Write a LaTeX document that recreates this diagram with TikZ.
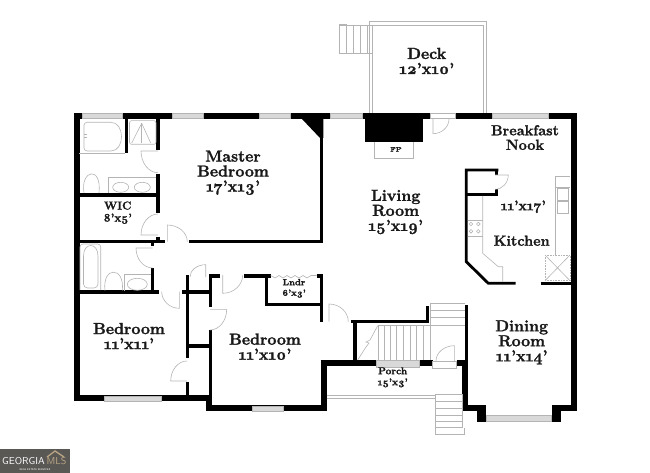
\documentclass[tikz,border=0pt]{standalone}
\usepackage{fontspec}
\setmainfont{Latin Modern Roman}[Numbers=OldStyle,BoldFeatures={FakeBold=1.6}]
\usepackage{tikz}
\usetikzlibrary{calc}
\definecolor{fixgray}{HTML}{B4B4B4}
\definecolor{logogray}{HTML}{5A5855}
\definecolor{logotan}{HTML}{B8A583}
\tikzset{
  wall/.style={line width=#1,black,line cap=butt,line join=miter},
  wall/.default=3.4pt,
  fixture/.style={draw=fixgray,line width=.6pt},
  panel/.style={draw=fixgray,line width=.6pt,fill=gray!30},
  roomlabel/.style={font=\fontsize{16}{15}\selectfont\bfseries,align=center,inner sep=0pt,text=black!90},
  smalllabel/.style={font=\fontsize{11.5}{12}\selectfont\bfseries,align=center,inner sep=0pt,text=black!90},
  tinylabel/.style={font=\fontsize{9}{10.5}\selectfont\bfseries,align=center,inner sep=0pt,text=black!90}
}
% door: hinge, open end of leaf, end of swing
\newcommand{\swing}[3]{
\draw [fixture] #1 -- #2 .. controls ($ #2 + 0.55*#3 - 0.55*#1 $) and ($ #3 + 0.55*#2 - 0.55*#1 $) .. #3;
}
\begin{document}
\begin{tikzpicture}[x=1pt,y=-1pt]
\useasboundingbox (0,0) rectangle (650,473);
% outer walls
\draw [wall=6pt] (76.5,401) -- (76.5,116) -- (430,116);
\draw [wall=6pt] (455,116) -- (573.7,116) -- (573.7,410.7);
\draw [wall=6pt] (73.5,398.3) -- (212,398.3);
\draw [wall=6pt] (206,408) -- (326.7,408);
\draw [wall=6pt] (209,395) -- (209,411);
\draw [wall=6pt] (323.7,360) -- (323.7,411);
\draw [wall=6pt] (320.7,363) -- (376.7,363);
\draw [wall=6pt] (419.3,363) -- (432.7,363);
\draw [wall=6pt] (456.7,363) -- (467.3,363);
\draw [wall=6pt] (464.5,360) -- (464.5,410.7);
\draw [wall=6pt] (461.5,407.8) -- (483.3,407.8);
\draw [wall=6pt] (555,407.8) -- (576.7,407.8);
\fill (476.7,405) rectangle (485.7,421.5);
\fill (551.7,405) rectangle (561,421.5);
\fill (365,116) rectangle (422.7,142.3);
\fill (302,119) -- (323.4,119) -- (323.4,138) -- (320,138) -- cycle;
% master bedroom and baths
\draw [wall] (321.7,116) -- (321.7,243.4);
\draw [wall] (189.3,241.7) -- (323.4,241.7);
\draw [wall] (79,241.7) -- (165,241.7);
\draw [wall] (158,119) -- (158,150);
\draw [wall] (158,174) -- (158,213.3);
\draw [wall] (158,236.7) -- (158,240);
\draw [wall] (126.7,119) -- (126.7,153.3);
\draw [wall] (79,195) -- (160,195);
\draw [wall] (152.7,243) -- (152.7,246);
\draw [wall] (152.7,268.3) -- (152.7,293);
\draw [wall] (79,292) -- (159,292);
% closets and bedrooms
\draw [wall] (187.7,275) -- (187.7,358.3);
\draw [wall] (187.7,381.7) -- (187.7,396);
\draw [wall] (182.3,292) -- (209,292);
\draw [wall] (187.7,346) -- (209,346);
\draw [wall] (220,275.8) -- (208.6,275.8);
\draw [wall] (210.3,274.2) -- (210.3,307.3);
\draw [wall] (210.3,330) -- (210.3,405);
\draw [wall] (244.3,275.8) -- (270.7,275.8);
\draw [wall] (266.7,274.2) -- (266.7,305.7);
\draw [wall] (265,304.2) -- (323.4,304.2);
\draw [wall] (316.7,275.8) -- (323.4,275.8);
\draw [wall] (321.7,274.2) -- (321.7,321.7);
% stairs, hall and kitchen
\draw [wall] (350.7,321.7) -- (429.3,321.7);
\draw [wall] (427.6,306) -- (427.6,323.4);
\draw [wall] (355,323) -- (355,360);
\draw [wall=2.8pt] (466.3,305) -- (466.3,360);
\draw [wall=2.8pt] (498.3,170) -- (466.3,170) -- (466.3,261.7) -- (488.3,283.3) -- (515.7,283.3);
\draw [wall=2.8pt] (465,194.7) -- (498.3,194.7);
\draw [wall=2.8pt] (540.7,283.3) -- (570.7,283.3);
\draw [wall=2.8pt] (496.7,170) -- (496.7,175);
\draw [wall=2.8pt] (496.7,189.3) -- (496.7,194.7);
% windows
\foreach \xa/\ya/\xb/\yb/\pname in {82.7/113.5/122/118.5/winA,172/113.5/203/118.5/winB,259/113.5/290/118.5/winC,330/113.5/362/118.5/winD,492/113.5/548/118.5/winE,104.3/396/161/401/winF,252.7/406/283.3/411/winG,376.7/360.5/419.3/367/winH,486.7/415/551.7/421.5/winI}
  \draw [panel] (\xa,\ya) rectangle (\xb,\yb);
% deck
\draw [fixture] (369,113) -- (369,21.7) -- (486.7,21.7) -- (486.7,113);
\draw [fixture] (372.7,113) -- (372.7,25) -- (483,25) -- (483,113);
\draw [fixture] (339.3,24) rectangle (346.5,53);
\foreach \xstep in {346.5,353.5,360.5,367}
  \draw [fixture] (\xstep,25) -- (\xstep,53);
\draw [fixture] (339.3,25) -- (372,25);
\draw [fixture] (339.3,53) -- (372,53);
% fireplace
\draw [fixture] (374,142.3) -- (374,158) -- (413.7,158) -- (413.7,142.3);
% doors
\draw [fixture] (430,113.3) rectangle (455,118.5);
\swing{(433,119)}{(433,133.7)}{(449,119)}
\swing{(167.3,241.7)}{(167.3,225)}{(187.3,241.7)}
\swing{(158,151)}{(141,151)}{(158,172.7)}
\swing{(158,235)}{(141,235)}{(158,214)}
\swing{(152.7,248)}{(136,248)}{(152.7,268)}
\swing{(179.3,291.7)}{(179.3,308.3)}{(161.7,291.7)}
\swing{(205.7,277)}{(205.7,264.7)}{(190,277)}
\swing{(222.7,275)}{(222.7,293.3)}{(242.7,275)}
\swing{(210,309.3)}{(226.7,309.3)}{(210,330)}
\swing{(187,381)}{(170.7,381)}{(187,361)}
\swing{(329,321.7)}{(329,304)}{(348.3,321.7)}
\swing{(454.3,361)}{(454.3,345.7)}{(436,361)}
\swing{(495,175)}{(508.3,175)}{(495,189.3)}
\draw [fixture] (432.7,361) rectangle (456.7,368);
% laundry folding doors
\draw [fixture] (270.7,275.5) -- (275,278) -- (279,275.5) -- (283,278) -- (287,275.5) -- (291,278) -- (295,275.5) -- (299,278) -- (303,275.5) -- (307,278) -- (311,275.5) -- (316.7,275.5);
% master bath fixtures
\draw [fixture] (79,153) -- (125,153);
\draw [fixture,rounded corners=3pt] (84,122.3) -- (108,122.3) .. controls (125,122.3) and (125,151) .. (108,151) -- (84,151) -- cycle;
\draw [fixture] (84,134) -- (87,134);
\draw [fixture] (84,137) -- (87,137);
\draw [fixture,rounded corners=2pt] (129.5,120.7) rectangle (156,144.3);
\draw [fixture] (141.7,123.3) -- (131.7,143);
\draw [fixture] (141.7,123.3) -- (150.7,143);
\draw [fixture] (141.7,123.3) -- (141.7,143);
\draw [fixture] (84,193) .. controls (80,170) and (102,165) .. (99,193);
\draw [fixture] (108,193) -- (108,177) -- (156,177);
\draw [fixture] (120.7,187.3) ellipse (8 and 5);
\draw [fixture] (142.3,187.3) ellipse (8 and 5);
% hall bath fixtures
\draw [fixture,rounded corners=3pt] (80,290) -- (80,244) -- (100.7,244) -- (100.7,290);
\draw [fixture,rounded corners=4pt] (83.5,288) -- (83.5,260) .. controls (83.5,242) and (98,242) .. (98,260) -- (98,288) -- cycle;
\draw [fixture] (105,290.5) .. controls (102,266) and (125,266) .. (122.3,290.5);
\draw [fixture] (124,290.5) -- (124,274.3) -- (150.7,274.3);
\draw [fixture] (137.3,284.3) ellipse (10 and 6);
% stairs
\foreach \ytread in {303.3,310.7,317.3,325}
  \draw [fixture] (430,\ytread) -- (465,\ytread);
\draw [fixture] (430,303.3) -- (430,360);
\draw [fixture] (378,325) -- (430,325);
\foreach \xtread in {378.3,384,390,396.7,403.3,410,416.7,423.3}
  \draw [fixture] (\xtread,325) -- (\xtread,360);
\draw [fixture] (357.7,360) -- (366,347) -- (369,343) -- (366,342) -- (370,340) -- (377.7,325.7);
% porch
\draw [fixture] (326.7,395) -- (435,395);
\draw [fixture] (326.7,398.3) -- (435,398.3);
\foreach \ystep in {394.3,401.7,408.3,415,421.7,427.7}
  \draw [fixture] (435,\ystep) -- (462.7,\ystep);
\draw [fixture] (435,394.3) -- (435,434) -- (464,434) -- (464,427.7);
\draw [fixture] (462.7,394.3) -- (462.7,427.7);
% kitchen fixtures
\draw [fixture] (482.7,196) -- (482.7,253.3) -- (498.3,266.7) -- (502.7,266.7) -- (502.7,281.7);
\draw [fixture] (467.5,220) -- (482.7,220);
\draw [fixture] (467.5,236) -- (482.7,236);
\foreach \xburn in {471,478.3}
  \foreach \yburn in {224,231.3}
    \draw [fixture] (\xburn,\yburn) circle (1.8);
\draw [fixture] (570,176.7) -- (555,176.7) -- (555,255);
\draw [fixture] (555,187.3) -- (570,187.3);
\draw [fixture] (557,188.3) rectangle (568.7,200);
\draw [fixture] (557,201.7) rectangle (568.7,213.3);
\draw [fixture,densely dotted] (545,255) rectangle (570,280.7);
\draw [fixture] (545,255) -- (570,280.7);
\draw [fixture] (570,255) -- (545,280.7);
% labels
\node [roomlabel] (deck) at (426.7,61) {Deck\\12'x10'};
\node [smalllabel,font=\fontsize{14.5}{14.5}\selectfont\bfseries] (nook) at (525,137.5) {Breakfast\\Nook};
\node [roomlabel] (living) at (395.7,212) {Living\\Room\\15'x19'};
\node [roomlabel] (master) at (233,172.7) {Master\\Bedroom\\17'x13'};
\node [smalllabel] (wic) at (117.7,212.7) {WIC\\8'x5'};
\node [roomlabel] (bedA) at (129,336) {Bedroom\\11'x11'};
\node [roomlabel] (bedB) at (265,346.7) {Bedroom\\11'x10'};
\node [tinylabel] (lndr) at (294,288.3) {Lndr\\6'x3'};
\node [tinylabel,font=\fontsize{6.5}{7}\selectfont\bfseries] (fp) at (396,149.3) {FP};
\node [smalllabel,font=\fontsize{14}{14}\selectfont\bfseries] (kitsize) at (523.3,206.7) {11'x17'};
\node [smalllabel,font=\fontsize{14.5}{14}\selectfont\bfseries] (kitchen) at (521.7,240.7) {Kitchen};
\node [roomlabel] (dining) at (521.7,342.3) {Dining\\Room\\11'x14'};
\node [tinylabel,font=\fontsize{10}{11}\selectfont\bfseries] (porch) at (392.7,377.3) {Porch\\15'x3'};
% logo
\fill [logogray] (0,449) rectangle (70,473);
\node [inner sep=0pt,anchor=base west,font=\fontsize{10}{10}\sffamily,text=white] (georgia) at (2,464) {GEORGIA};
\node [inner sep=0pt,anchor=base west,font=\fontsize{10}{10}\sffamily,text=logotan] (mls) at (46.5,464) {MLS};
\node [inner sep=0pt,font=\fontsize{2.5}{3}\sffamily\bfseries,text=white!75!gray] (services) at (35,469.5) {REAL ESTATE SERVICES};
\draw [logotan,line width=1.3pt] (47,457) -- (55,451) -- (64,457);
\end{tikzpicture}
\end{document}
